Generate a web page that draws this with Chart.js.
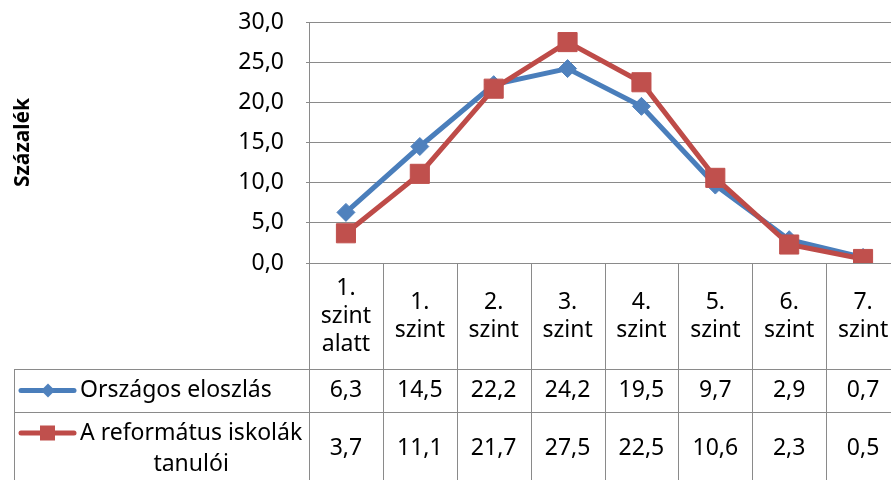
<!DOCTYPE html>
<html lang="hu">
<head>
  <meta charset="UTF-8" />
  <title>Szintek eloszlása</title>
  <script src="https://cdn.jsdelivr.net/npm/chart.js"></script>
  <style>
    html, body {
      margin: 0;
      padding: 0;
      overflow: hidden;
      background: #fff;
    }
    .clip {
      width: 891px;
      height: 480px;
      overflow: hidden;
    }
    .wrap {
      position: relative;
      width: 900px;
      height: 480px;
    }
  </style>
</head>
<body>
  <div class="clip"><div class="wrap"><canvas id="chart"></canvas></div></div>

  <script>
    // data
    const levels = [
      ['1.', 'szint', 'alatt'],
      ['1.', 'szint'],
      ['2.', 'szint'],
      ['3.', 'szint'],
      ['4.', 'szint'],
      ['5.', 'szint'],
      ['6.', 'szint'],
      ['7.', 'szint']
    ];
    const orszagos = [6.3, 14.5, 22.2, 24.2, 19.5, 9.7, 2.9, 0.7];
    const reformatus = [3.7, 11.1, 21.7, 27.5, 22.5, 10.6, 2.3, 0.5];
    const seriesNames = [['Országos eloszlás'], ['A református iskolák', 'tanulói']];
    const yTicks = [0, 5, 10, 15, 20, 25, 30];

    const gridColor = '#8a8a8a';
    const blue = '#4a7ebb';
    const red = '#be4b48';
    const font = '23px "Noto Sans"';

    function fmt(v) {
      return v.toFixed(1).replace('.', ',');
    }

    // data table under the plot, drawn from the chart's own x scale
    const dataTable = {
      id: 'dataTable',
      afterDraw(chart) {
        const ctx = chart.ctx;
        const x = chart.scales.x;
        const half = (x.getPixelForValue(1) - x.getPixelForValue(0)) / 2;
        const top = x.top;
        const headBottom = top + 106;
        const row1Bottom = headBottom + 43;
        const row2Bottom = row1Bottom + 72;
        const leftEdge = 14;

        ctx.save();
        ctx.strokeStyle = gridColor;
        ctx.lineWidth = 1;
        ctx.beginPath();
        // horizontal lines
        ctx.moveTo(x.left, top + 0.5); ctx.lineTo(x.right, top + 0.5);
        ctx.moveTo(leftEdge, headBottom + 0.5); ctx.lineTo(x.right, headBottom + 0.5);
        ctx.moveTo(leftEdge, row1Bottom + 0.5); ctx.lineTo(x.right, row1Bottom + 0.5);
        ctx.moveTo(leftEdge, row2Bottom + 0.5); ctx.lineTo(x.right, row2Bottom + 0.5);
        // left border of the legend column
        ctx.moveTo(leftEdge + 0.5, headBottom); ctx.lineTo(leftEdge + 0.5, row2Bottom);
        // column dividers
        for (let i = 0; i <= levels.length; i++) {
          const px = Math.round(x.getPixelForValue(0) - half + i * 2 * half) + 0.5;
          ctx.moveTo(px, top); ctx.lineTo(px, row2Bottom);
        }
        ctx.stroke();

        ctx.fillStyle = '#000';
        ctx.font = font;
        ctx.textAlign = 'center';
        ctx.textBaseline = 'middle';
        const lh = 28;
        const headMid = (top + headBottom) / 2;
        const row1Mid = (headBottom + row1Bottom) / 2;
        const row2Mid = (row1Bottom + row2Bottom) / 2;

        levels.forEach((lines, i) => {
          const cx = x.getPixelForValue(i);
          const y0 = headMid - (lines.length - 1) * lh / 2;
          lines.forEach((t, j) => ctx.fillText(t, cx, y0 + j * lh));
          ctx.fillText(fmt(orszagos[i]), cx, row1Mid);
          ctx.fillText(fmt(reformatus[i]), cx, row2Mid);
        });

        // legend keys
        ctx.lineCap = 'round';
        ctx.lineWidth = 5;
        ctx.strokeStyle = blue;
        ctx.beginPath(); ctx.moveTo(21, row1Mid); ctx.lineTo(74, row1Mid); ctx.stroke();
        ctx.fillStyle = '#4f81bd';
        ctx.beginPath();
        ctx.moveTo(48 - 7, row1Mid); ctx.lineTo(48, row1Mid - 7);
        ctx.lineTo(48 + 7, row1Mid); ctx.lineTo(48, row1Mid + 7);
        ctx.closePath(); ctx.fill();

        const key2 = row2Mid - 15;
        ctx.strokeStyle = red;
        ctx.beginPath(); ctx.moveTo(21, key2); ctx.lineTo(74, key2); ctx.stroke();
        ctx.fillStyle = '#c0504d';
        ctx.fillRect(40, key2 - 7.5, 15, 15);

        ctx.fillStyle = '#000';
        ctx.textAlign = 'left';
        ctx.fillText(seriesNames[0][0], 80, row1Mid);
        ctx.fillText(seriesNames[1][0], 80, key2);
        ctx.textAlign = 'center';
        const w = ctx.measureText(seriesNames[1][0]).width;
        ctx.fillText(seriesNames[1][1], 80 + w / 2, key2 + 31);
        ctx.restore();
      }
    };

    new Chart(document.getElementById('chart'), {
      type: 'line',
      data: {
        labels: levels,
        datasets: [
          {
            label: seriesNames[0].join(' '),
            data: orszagos,
            borderColor: blue,
            backgroundColor: '#4f81bd',
            borderWidth: 5,
            pointStyle: 'rectRot',
            pointRadius: 9,
            pointBorderWidth: 1,
            pointBorderColor: '#4f81bd',
            order: 1
          },
          {
            label: seriesNames[1].join(' '),
            data: reformatus,
            borderColor: red,
            backgroundColor: '#c0504d',
            borderWidth: 5,
            pointStyle: 'rect',
            pointRadius: 13.5,
            pointBorderWidth: 1,
            pointBorderColor: '#c0504d',
            order: 0
          }
        ]
      },
      options: {
        responsive: true,
        maintainAspectRatio: false,
        animation: false,
        layout: { autoPadding: false, padding: { top: 22, left: 0, right: 0, bottom: 0 } },
        plugins: {
          legend: { display: false },
          tooltip: { enabled: false }
        },
        scales: {
          x: {
            offset: true,
            ticks: { display: false },
            grid: { display: false },
            border: { display: true, color: gridColor },
            afterFit(scale) {
              scale.height = 217;
              scale.paddingLeft = 0;
              scale.paddingRight = 0;
            }
          },
          y: {
            min: 0,
            max: 30,
            afterBuildTicks(scale) {
              scale.ticks = yTicks.map(v => ({ value: v }));
            },
            afterFit(scale) {
              scale.width = 309;
              scale.paddingTop = 0;
              scale.paddingBottom = 0;
            },
            ticks: {
              padding: 22,
              color: '#000',
              font: { family: 'Noto Sans', size: 23 },
              callback: v => fmt(v)
            },
            grid: { color: gridColor, tickLength: 3 },
            border: { color: gridColor },
            title: {
              display: true,
              text: 'Százalék',
              color: '#000',
              font: { family: 'Noto Sans', size: 21, weight: 'bold' },
              padding: { top: 10, bottom: 0 }
            }
          }
        }
      },
      plugins: [dataTable]
    });
  </script>
</body>
</html>
